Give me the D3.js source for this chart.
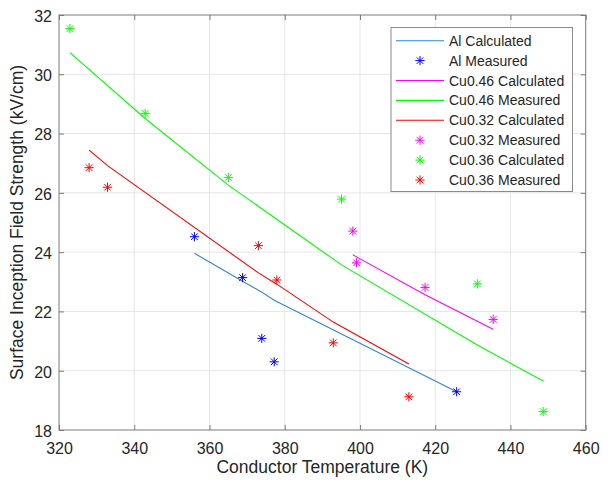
<!DOCTYPE html>
<html>
<head>
<meta charset="utf-8">
<script src="https://cdn.jsdelivr.net/npm/d3@7"></script>
<style>
  body { margin: 0; background: #fff; }
  svg { display: block; font-family: "Liberation Sans", Arial, sans-serif; }
  .tick text { fill: #262626; font-size: 16px; }
</style>
</head>
<body>
<svg id="chart" width="615" height="483"></svg>
<script>
// x ticks / y ticks
const xTicks = [320, 340, 360, 380, 400, 420, 440, 460];
const yTicks = [18, 20, 22, 24, 26, 28, 30, 32];

// [temperature K, field kV/cm]
const alCalculated = [[356.0, 23.96], [368.8, 23.02], [373.9, 22.65], [377.2, 22.38], [425.7, 19.29]];
const alMeasured = [[356.0, 24.52], [368.8, 23.14], [373.9, 21.09], [377.2, 20.30], [425.7, 19.29]];
const cu046Calculated = [[398.1, 23.91], [399.1, 23.84], [417.3, 22.56], [435.4, 21.40]];
const cu046Measured = [[322.9, 30.73], [342.9, 28.51], [365.0, 26.26], [395.1, 23.57], [431.2, 20.87], [448.7, 19.65]];
const cu032Calculated = [[328.0, 27.44], [332.9, 26.92], [373.0, 23.30], [377.9, 22.92], [392.9, 21.64], [413.0, 20.23]];
const cu032Measured = [[398.1, 24.71], [399.1, 23.64], [417.3, 22.81], [435.4, 21.73]];
const cu036Calculated = [[322.9, 31.54], [342.9, 28.68], [365.0, 26.52], [395.1, 25.79], [431.2, 22.93], [448.7, 18.62]];
const cu036Measured = [[328.0, 26.85], [332.9, 26.19], [373.0, 24.22], [377.9, 23.06], [392.9, 20.94], [413.0, 19.12]];

const series = [
  { name: "Al Calculated", type: "line", color: "#2f86d0", data: alCalculated },
  { name: "Al Measured", type: "star", color: "#0000ff", data: alMeasured },
  { name: "Cu0.46 Calculated", type: "line", color: "#ff00ff", data: cu046Calculated },
  { name: "Cu0.46 Measured", type: "line", color: "#00ff00", data: cu046Measured },
  { name: "Cu0.32 Calculated", type: "line", color: "#ff0000", data: cu032Calculated },
  { name: "Cu0.32 Measured", type: "star", color: "#ff00ff", data: cu032Measured },
  { name: "Cu0.36 Calculated", type: "star", color: "#00ff00", data: cu036Calculated },
  { name: "Cu0.36 Measured", type: "star", color: "#ff0000", data: cu036Measured }
];

const margin = { top: 15, right: 29.3, bottom: 53, left: 59 };
const width = 615, height = 483;
const svg = d3.select("#chart");

const x = d3.scaleLinear().domain([320, 460]).range([margin.left, width - margin.right]);
const y = d3.scaleLinear().domain([18, 32]).range([height - margin.bottom, margin.top]);
const axisColor = "#7a7a7a";

// grid
svg.append("g")
  .selectAll("line")
  .data(xTicks.slice(1, -1))
  .join("line")
  .attr("x1", d => x(d)).attr("x2", d => x(d))
  .attr("y1", y(18)).attr("y2", y(32))
  .attr("stroke", "#e6e6e6");

svg.append("g")
  .selectAll("line")
  .data(yTicks.slice(1, -1))
  .join("line")
  .attr("x1", x(320)).attr("x2", x(460))
  .attr("y1", d => y(d)).attr("y2", d => y(d))
  .attr("stroke", "#e6e6e6");

// axes, ticks inward on all four sides
function styleAxis(g) {
  g.select(".domain").remove();
  g.selectAll(".tick line").attr("stroke", axisColor);
}

svg.append("g")
  .attr("transform", `translate(0,${y(18)})`)
  .call(d3.axisBottom(x).tickValues(xTicks).tickSize(-5).tickPadding(13).tickFormat(d3.format("d")))
  .call(styleAxis);

svg.append("g")
  .attr("transform", `translate(0,${y(32)})`)
  .call(d3.axisTop(x).tickValues(xTicks).tickSize(-5).tickFormat(""))
  .call(styleAxis);

svg.append("g")
  .attr("transform", `translate(${x(320)},0)`)
  .call(d3.axisLeft(y).tickValues(yTicks).tickSize(-5).tickPadding(7).tickFormat(d3.format("d")))
  .call(styleAxis)
  .selectAll("text").attr("dy", "0.4em");

svg.append("g")
  .attr("transform", `translate(${x(460)},0)`)
  .call(d3.axisRight(y).tickValues(yTicks).tickSize(-5).tickFormat(""))
  .call(styleAxis);

svg.selectAll(".tick text").attr("font-family", "Liberation Sans, Arial, sans-serif");

svg.append("rect")
  .attr("x", x(320)).attr("y", y(32))
  .attr("width", x(460) - x(320)).attr("height", y(18) - y(32))
  .attr("fill", "none").attr("stroke", axisColor);

// axis titles
svg.append("text")
  .attr("x", (x(320) + x(460)) / 2)
  .attr("y", 473)
  .attr("text-anchor", "middle")
  .attr("fill", "#262626")
  .attr("font-size", 17.5)
  .text("Conductor Temperature (K)");

svg.append("text")
  .attr("transform", `translate(23,${(y(18) + y(32)) / 2}) rotate(-90)`)
  .attr("text-anchor", "middle")
  .attr("fill", "#262626")
  .attr("font-size", 17.5)
  .text("Surface Inception Field Strength (kV/cm)");

// marks
const line = d3.line().x(d => x(d[0])).y(d => y(d[1]));
const starPath = (r) => {
  const d = r * 0.72;
  return `M${-r},0H${r}M0,${-r}V${r}M${-d},${-d}L${d},${d}M${-d},${d}L${d},${-d}`;
};

const plot = svg.append("g");
series.filter(s => s.type === "line").forEach(s => {
  plot.append("path")
    .datum(s.data)
    .attr("d", line)
    .attr("fill", "none")
    .attr("stroke", s.color)
    .attr("stroke-width", 1.1);
});

series.filter(s => s.type === "star").forEach(s => {
  plot.append("g")
    .selectAll("path")
    .data(s.data)
    .join("path")
    .attr("transform", d => `translate(${x(d[0])},${y(d[1])})`)
    .attr("d", starPath(4.6))
    .attr("fill", "none")
    .attr("stroke", s.color)
    .attr("stroke-width", 1);
});

// legend
const legend = svg.append("g");
legend.append("rect")
  .attr("x", 391).attr("y", 27.5)
  .attr("width", 181.5).attr("height", 164)
  .attr("fill", "#fff").attr("stroke", "#8a8a8a");

const rows = legend.selectAll("g.row")
  .data(series)
  .join("g")
  .attr("class", "row")
  .attr("transform", (d, i) => `translate(0,${40.7 + i * 19.9})`);

rows.filter(d => d.type === "line").append("line")
  .attr("x1", 396).attr("x2", 444)
  .attr("stroke", d => d.color)
  .attr("stroke-width", 1.1);

rows.filter(d => d.type === "star").append("path")
  .attr("transform", "translate(420,0)")
  .attr("d", starPath(4.6))
  .attr("fill", "none")
  .attr("stroke", d => d.color);

rows.append("text")
  .attr("x", 449)
  .attr("dy", "0.36em")
  .attr("fill", "#262626")
  .attr("font-size", 14)
  .text(d => d.name);
</script>
</body>
</html>
